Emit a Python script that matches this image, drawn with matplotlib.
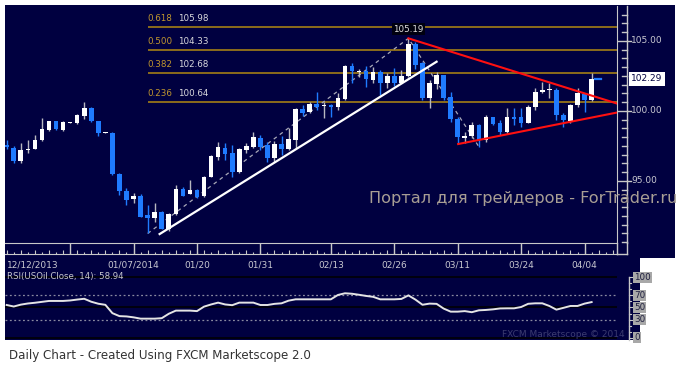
import matplotlib
matplotlib.use('Agg')
import matplotlib.pyplot as plt
from matplotlib.patches import Rectangle

# ---------------- data ----------------
opens = [97.6, 97.35, 96.4, 97.2, 97.3, 97.9, 98.65, 99.25, 98.65, 99.15,
         99.12, 99.65, 100.2, 99.3, 98.45, 98.45, 95.5, 94.25, 93.7, 93.95,
         92.55, 92.35, 92.8, 91.55, 92.65, 94.45, 94.1, 94.35, 93.9, 95.3,
         96.7, 97.35, 96.98, 95.67, 97.21, 97.41, 98.05, 97.57, 96.62, 97.64,
         97.26, 97.93, 100.12, 99.95, 100.5, 100.33, 100.43, 100.26, 100.83, 103.21,
         102.8, 102.88, 102.21, 102.81, 102.02, 102.52, 102.02, 102.52, 104.76, 103.41,
         100.9, 101.93, 102.57, 100.98, 99.41, 98.05, 98.21, 99.0, 97.93, 99.55,
         99.12, 98.52, 99.6, 99.55, 99.17, 100.26, 101.33, 101.48, 101.5, 99.71,
         99.31, 100.43, 101.19, 100.79]
highs = [97.9, 97.5, 97.7, 97.9, 98.3, 99.5, 99.3, 99.3, 99.25, 99.2,
         99.75, 100.65, 100.3, 99.3, 98.5, 98.5, 95.55, 94.5, 94.15, 94.1,
         93.3, 93.4, 92.85, 92.7, 94.7, 94.6, 95.05, 94.4, 95.35, 96.85,
         97.75, 97.7, 97.57, 97.35, 97.7, 98.52, 98.29, 97.8, 97.88, 98.2,
         98.76, 100.2, 100.43, 100.66, 101.38, 100.66, 100.5, 101.26, 103.3, 103.41,
         102.98, 103.21, 103.12, 102.9, 102.74, 103.05, 102.93, 105.19, 104.95, 103.52,
         102.2, 102.75, 102.6, 101.38, 99.6, 98.52, 99.24, 99.05, 99.71, 99.6,
         99.36, 100.19, 100.19, 100.21, 100.43, 101.62, 102.1, 101.98, 101.62, 99.86,
         100.5, 101.62, 101.26, 102.69]
lows = [97.3, 96.3, 96.25, 97.0, 97.25, 97.85, 98.6, 98.65, 98.55, 99.15,
        99.1, 99.4, 99.2, 98.2, 98.4, 95.45, 94.0, 93.3, 93.45, 92.4,
        91.25, 92.1, 91.55, 91.45, 92.6, 93.9, 94.05, 93.8, 93.85, 95.25,
        96.5, 96.5, 95.3, 95.6, 97.0, 97.35, 97.21, 96.38, 96.38, 96.86,
        97.2, 97.34, 99.64, 99.84, 100.07, 99.48, 99.6, 100.1, 100.75, 101.98,
        102.45, 101.74, 101.98, 101.14, 101.62, 101.79, 101.98, 102.45, 102.98, 100.79,
        100.19, 101.55, 100.8, 99.24, 97.69, 97.69, 98.05, 97.45, 97.81, 99.0,
        98.29, 98.4, 99.0, 98.88, 99.12, 100.07, 101.26, 100.9, 99.36, 98.88,
        99.12, 100.31, 99.95, 100.7]
closes = [97.4, 96.4, 97.2, 97.3, 97.93, 98.7, 99.25, 98.7, 99.2, 99.2,
          99.7, 100.2, 99.25, 98.45, 98.45, 95.5, 94.25, 93.65, 93.95, 92.45,
          92.35, 92.8, 91.6, 92.65, 94.45, 93.95, 94.35, 93.85, 95.3, 96.75,
          97.4, 96.95, 95.67, 97.29, 97.52, 98.12, 97.45, 96.62, 97.64, 97.26,
          97.98, 100.12, 99.88, 100.5, 100.26, 100.38, 100.26, 100.9, 103.21, 102.88,
          102.83, 102.26, 102.81, 102.02, 102.52, 102.02, 102.52, 104.76, 103.29, 100.9,
          101.98, 102.57, 100.9, 99.41, 98.12, 98.21, 99.0, 97.93, 99.55, 99.07,
          98.52, 99.6, 99.41, 99.17, 100.31, 101.38, 101.5, 101.52, 99.71, 99.36,
          100.43, 101.26, 100.79, 102.29]
rsi = [54.1, 51.6, 54.7, 56.6, 57.8, 59.3, 60.8, 60.8, 60.8, 61.6,
       63.1, 64.4, 59.5, 56.2, 54.4, 40.6, 35.7, 35.2, 33.7, 31.5,
       31.5, 31.5, 32.3, 39.6, 44.8, 44.8, 44.8, 44.0, 51.4, 55.0,
       58.0, 55.0, 53.8, 58.0, 58.0, 58.0, 54.1, 54.1, 56.0, 56.9,
       61.3, 63.5, 63.5, 63.5, 63.5, 63.5, 63.5, 70.7, 73.5, 72.7,
       71.0, 69.1, 67.6, 63.5, 63.5, 63.5, 64.1, 70.0, 63.0, 54.5,
       56.4, 56.0, 48.2, 43.1, 43.1, 44.0, 42.2, 45.3, 45.9, 46.9,
       48.4, 48.6, 48.6, 50.8, 56.1, 56.9, 56.9, 52.5, 46.4, 49.4,
       52.5, 52.5, 56.4, 58.94]

fib_ratios = ['0.618', '0.500', '0.382', '0.236']
fib_levels = [105.98, 104.33, 102.68, 100.64]
fib_start_bar = 20
fib_anchors = [(20, 91.25), (57, 105.19), (67, 97.45)]
peak_bar, peak_price = 57, 105.19
last_price = 102.29
uptrend = [(21.7, 91.21), (61.0, 103.52)]
upper_red = [(57, 105.19), (86.5, 100.55)]
lower_red = [(64.06, 97.64), (86.5, 99.88)]

price_ticks = [95.0, 100.0, 105.0]
first_date_label = '12/12/2013'
date_bars = [18, 27, 36, 46, 55, 64, 73, 82]
date_labels = ['01/07/2014', '01/20', '01/31', '02/13', '02/26', '03/11', '03/24', '04/04']
separator_bars = [9, 18, 27, 36, 46, 55, 64, 73, 82]
rsi_levels = [100, 70, 50, 30, 0]
rsi_title = 'RSI(USOil.Close, 14): 58.94'

# ---------------- layout helpers ----------------
W, H = 685, 372
NAVY = '#000040'
GRID = '#c8c8c8'
BLUE = '#1f7bff'
TXT = '#c8c8d0'

fig = plt.figure(figsize=(W / 100, H / 100), dpi=100)
fig.patch.set_facecolor('white')


def fx(x):
    return x / W


def fy(y):
    return 1 - y / H


bg = fig.add_axes([0, 0, 1, 1])
bg.set_zorder(-10)
bg.set_xlim(0, W)
bg.set_ylim(H, 0)
bg.axis('off')


def rect(x0, y0, x1, y1, color):
    bg.add_patch(Rectangle((x0, y0), x1 - x0, y1 - y0, facecolor=color, edgecolor='none'))


rect(5, 5, 675, 258, NAVY)
rect(5, 258, 640, 340, NAVY)

PL, PR = 5, 617
XL, XR = -0.24, 86.6


def axfrac(px):
    return (px - PL) / (PR - PL)


# ---------------- main price axes ----------------
ax = fig.add_axes([fx(PL), fy(243), fx(PR) - fx(PL), fy(6) - fy(243)])
ax.set_facecolor('none')
ax.set_xlim(XL, XR)
ax.set_ylim(90.571, 107.5)
for s in ['left', 'top']:
    ax.spines[s].set_visible(False)
ax.spines['right'].set_color(GRID)
ax.spines['bottom'].set_color(GRID)
ax.set_xticks([])
ax.set_yticks([])

for r, lv in zip(fib_ratios, fib_levels):
    ax.plot([fib_start_bar, XR], [lv, lv], color='#8c6c1c', lw=1.4, zorder=2, solid_capstyle='butt')
    ax.annotate(r, xy=(fib_start_bar, lv), xytext=(0, 3), textcoords='offset points',
                color='#c0962e', fontsize=6.3, va='bottom', ha='left', zorder=6)
    ax.annotate('%.2f' % lv, xy=(fib_start_bar, lv), xytext=(22, 3), textcoords='offset points',
                color='#d8d8dc', fontsize=6.3, va='bottom', ha='left', zorder=6)

ax.plot([a[0] for a in fib_anchors], [a[1] for a in fib_anchors], color='#a8a8b8',
        lw=0.9, ls=(0, (3, 3)), zorder=3)

for i, (o, h, l, c) in enumerate(zip(opens, highs, lows, closes)):
    up = c >= o
    body_c = 'white' if up else BLUE
    wick_c = '#b8b8c0' if up else BLUE
    ax.vlines(i, l, h, color=wick_c, lw=1, zorder=4)
    lo, hi = min(o, c), max(o, c)
    hgt = max(hi - lo, 0.08)
    ax.bar(i, hgt, bottom=lo, width=0.66, color=body_c, edgecolor='none', zorder=5)

ax.plot([p[0] for p in uptrend], [p[1] for p in uptrend], color='white', lw=1.6, zorder=6)
ax.plot([p[0] for p in upper_red], [p[1] for p in upper_red], color='#ff1010', lw=1.5, zorder=6)
ax.plot([p[0] for p in lower_red], [p[1] for p in lower_red], color='#ff1010', lw=1.5, zorder=6)

ax.annotate('%.2f' % peak_price, xy=(peak_bar, peak_price), xytext=(0, 6.5),
            textcoords='offset points', ha='center', va='center', color='#e0e0e0',
            fontsize=6.3, zorder=7,
            bbox=dict(boxstyle='square,pad=0.15', facecolor='#000010', edgecolor='none'))

ax.plot([len(closes) - 0.5, len(closes) + 0.4], [last_price, last_price], color=BLUE, lw=1.6,
        zorder=6, clip_on=False)

ytr = ax.get_yaxis_transform()
ax.plot([axfrac(627), axfrac(627)], [0, 1], transform=ax.transAxes, color=GRID, lw=1, clip_on=False)
tk = 90.625
while tk < 107.5:
    if all(abs(tk - p) > 0.01 for p in price_ticks):
        ax.plot([axfrac(622), axfrac(627)], [tk, tk], transform=ytr, color=GRID, lw=1, clip_on=False)
    tk += 0.625
for p in price_ticks:
    ax.plot([axfrac(618), axfrac(631)], [p, p], transform=ytr, color=GRID, lw=1, clip_on=False)
    ax.text(axfrac(631), p, '%.2f' % p, transform=ytr, color=TXT, fontsize=6.5,
            va='center', ha='left', clip_on=False)
ax.text(axfrac(631), last_price, '%.2f' % last_price, transform=ytr, color=NAVY, fontsize=6.5,
        va='center', ha='left', clip_on=False, zorder=8,
        bbox=dict(boxstyle='square,pad=0.25', facecolor='white', edgecolor='none'))

# ---------------- x band ----------------
axx = fig.add_axes([fx(PL), fy(254), fx(PR) - fx(PL), fy(243) - fy(254)])
axx.set_facecolor('none')
axx.set_xlim(XL, XR)
axx.set_ylim(0, 1)
for s in ['left', 'top', 'right']:
    axx.spines[s].set_visible(False)
axx.spines['bottom'].set_color(GRID)
axx.set_xticks([])
axx.set_yticks([])
axx.vlines(separator_bars, 0, 1, color=GRID, lw=1)
for i in range(0, 87):
    axx.vlines(i, 0, 0.4 if i % 2 == 0 else 0.15, color=GRID, lw=0.8)
axx.plot([1, axfrac(627)], [0, 0], transform=axx.transAxes, color=GRID, lw=1, clip_on=False)
axx.plot([1, 1], [0, 1], transform=axx.transAxes, color=GRID, lw=1, clip_on=False)
axx.plot([axfrac(627), axfrac(627)], [0, 1], transform=axx.transAxes, color=GRID, lw=1, clip_on=False)
xtr = axx.get_xaxis_transform()
for b, lab in zip(date_bars, date_labels):
    axx.text(b, -1.0, lab, transform=xtr, color=TXT, fontsize=6.5, ha='center', va='center',
             clip_on=False)
axx.text(axfrac(7), -1.0, first_date_label, transform=axx.transAxes, color=TXT, fontsize=6.5,
         ha='left', va='center', clip_on=False)

# ---------------- RSI panel ----------------
axr = fig.add_axes([fx(PL), fy(340), fx(PR) - fx(PL), fy(270) - fy(340)])
axr.set_facecolor('none')
axr.set_xlim(XL, XR)
axr.set_ylim(-3.8, 112)
for s in ['left', 'top', 'bottom', 'right']:
    axr.spines[s].set_visible(False)
axr.set_xticks([])
axr.set_yticks([])
for lv in [100, 50, 0]:
    axr.axhline(lv, color='black', lw=1.1)
for lv in [70, 30]:
    axr.axhline(lv, color='#8a8aa0', lw=0.9, ls=(0, (1.5, 2)))
axr.plot(range(len(rsi)), rsi, color='#e4e4e4', lw=1.4, zorder=4)
axr.text(axfrac(11), 102, rsi_title, color=TXT, fontsize=6.2, ha='left', va='center')
rtr = axr.get_yaxis_transform()
axr.text(axfrac(625), 5, 'FXCM Marketscope \u00a9 2014', color='#3c3c70', fontsize=6.5,
         ha='right', va='center', transform=rtr)
axr.plot([axfrac(629), axfrac(629)], [-3.8, 100], transform=rtr, color=GRID, lw=1, clip_on=False)
for lv in range(0, 101, 10):
    ln = 4 if lv in rsi_levels else 2
    axr.plot([axfrac(629), axfrac(629 + ln)], [lv, lv], transform=rtr, color=GRID, lw=0.8, clip_on=False)
for lv in rsi_levels:
    axr.text(axfrac(634), lv, str(lv), transform=rtr, color='#202040', fontsize=6.3,
             ha='left', va='center', clip_on=False,
             bbox=dict(boxstyle='square,pad=0.12', facecolor='#a8a8a8', edgecolor='none'))

# ---------------- texts ----------------
fig.text(fx(369), fy(198), 'Портал для трейдеров - ForTrader.ru', color='#a89e94',
         fontsize=11.6, ha='left', va='center', zorder=20)
fig.text(fx(9), fy(355), 'Daily Chart - Created Using FXCM Marketscope 2.0', color='#333333',
         fontsize=8.6, ha='left', va='center')

fig.savefig('out.png', dpi=100, facecolor='white')
